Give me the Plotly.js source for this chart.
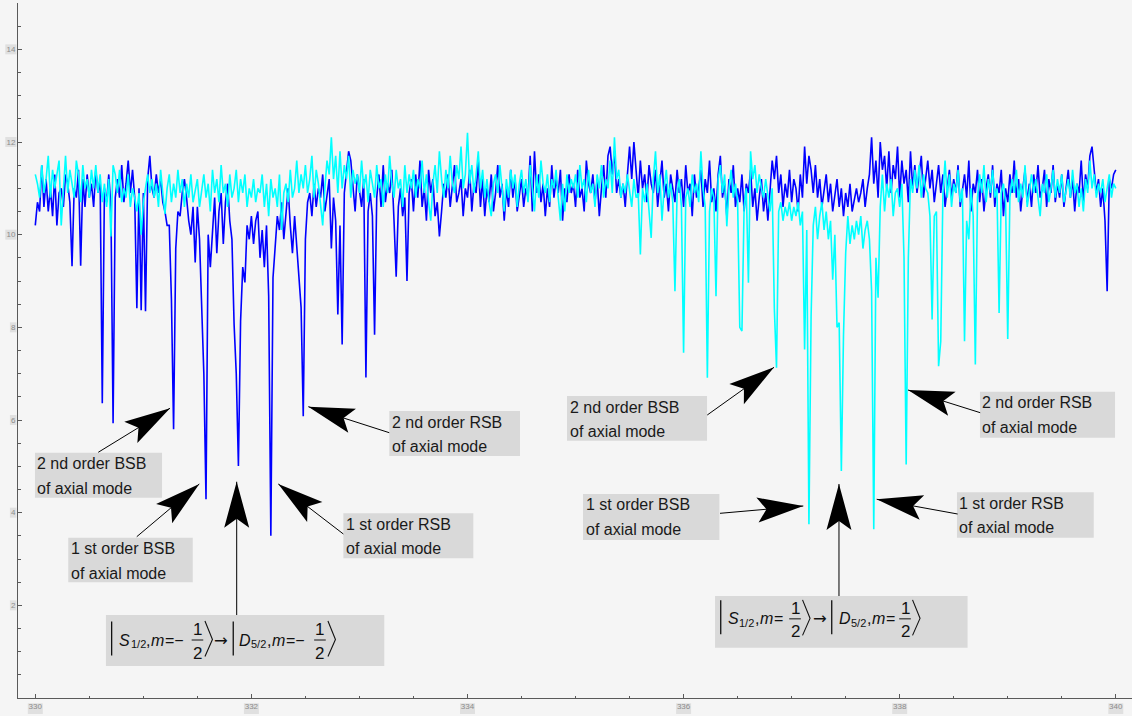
<!DOCTYPE html>
<html>
<head>
<meta charset="utf-8">
<script src="https://cdn.plot.ly/plotly-3.0.1.min.js"></script>
<style>
html,body{margin:0;padding:0;background:#f5f5f5;}
#chart{width:1132px;height:716px;}
</style>
</head>
<body>
<div id="chart"></div>
<script>
// ---------- data ----------
const X_START = 330;
const X_STEP = 0.02;
const blueValues = [
10.2,10.7,10.5,11.5,10.6,11.2,10.5,11.0,10.4,11.3,10.2,10.9,11.0,10.6,11.3,11.1,10.7,9.32,11.0,10.8,11.4,9.33,11.2,10.6,11.3,
10.8,11.1,10.6,11.4,10.9,11.2,6.36,11.0,10.7,11.3,10.6,5.93,10.8,11.2,10.8,11.5,10.7,11.1,11.6,10.9,11.4,10.8,8.41,11.0,8.37,
10.9,8.35,11.2,11.7,11.0,10.8,11.3,10.9,11.2,10.7,10.5,10.2,10.2,8.6,5.80,9.7,10.5,10.4,10.9,11.2,10.8,10.3,10.0,10.6,9.4,
10.6,9.9,8.56,7.0,4.29,10.0,9.3,10.1,10.8,9.6,10.5,10.9,9.8,10.7,11.1,10.3,9.9,8.06,7.0,5.01,8.13,9.3,8.97,10.2,9.9,
10.4,9.8,10.3,10.5,9.5,10.1,9.3,10.2,8.67,3.50,9.07,9.8,10.4,10.1,10.7,9.9,10.5,11.0,10.2,9.6,10.4,9.8,9.2,8.43,6.08,
9.9,10.7,10.9,10.4,11.1,10.6,11.0,10.8,11.3,10.5,10.9,11.2,9.7,10.8,10.3,8.28,10.2,7.63,10.9,11.4,11.8,11.6,11.1,10.5,11.3,
11.0,10.6,11.2,6.92,10.5,10.9,10.4,7.84,10.8,11.3,10.6,11.5,10.7,11.1,10.9,11.4,10.3,9.09,10.6,11.0,10.4,10.8,9.0,10.9,11.2,
10.5,11.3,10.8,11.6,10.6,11.0,10.3,11.4,10.9,11.2,10.4,10.7,9.96,10.5,11.1,10.8,11.3,10.6,11.0,11.5,10.7,10.9,11.2,10.4,11.0,
10.8,11.4,10.5,11.1,10.9,11.6,10.6,11.2,10.4,11.0,10.7,11.3,10.5,10.9,11.5,10.8,11.1,10.3,11.0,10.6,11.4,10.8,11.2,10.5,10.9,
11.2,10.6,11.0,10.8,11.7,10.5,11.8,10.9,11.3,10.7,11.1,10.4,11.0,10.6,11.5,10.8,11.2,10.9,11.4,10.3,11.0,10.7,11.3,10.9,11.1,
10.6,11.4,10.8,11.0,10.5,11.6,11.1,10.9,11.3,10.7,11.2,10.4,11.0,11.5,10.8,11.7,11.9,11.3,11.8,10.9,11.2,10.8,11.1,10.6,11.3,
11.9,11.2,12.0,11.4,10.8,11.6,11.0,11.3,10.7,11.5,11.1,10.9,11.4,10.6,11.2,11.6,10.8,11.1,10.5,11.3,11.0,10.7,11.4,10.9,11.2,
10.6,11.5,10.9,11.1,10.4,11.3,10.8,11.0,11.4,10.6,11.2,10.9,11.6,10.7,11.0,10.5,11.3,11.7,10.8,11.1,10.4,11.2,10.9,11.5,10.6,
11.0,10.7,11.3,10.5,11.1,10.9,11.4,10.6,11.0,10.3,10.8,11.2,10.5,10.9,10.3,11.0,11.6,11.2,11.7,10.9,11.3,10.6,11.1,10.8,11.4,
10.7,11.2,11.0,10.5,11.3,10.8,11.9,11.1,11.7,11.4,10.9,11.5,10.8,11.2,10.6,11.0,11.3,10.7,11.1,10.5,10.9,11.2,10.6,11.0,10.4,
10.9,10.6,11.1,10.5,10.8,11.0,10.7,10.9,11.2,10.6,11.0,11.3,12.1,11.1,11.6,10.8,12.0,11.4,11.7,11.0,11.8,10.9,11.5,11.2,11.9,
10.8,11.6,11.1,11.4,10.7,11.8,11.0,11.5,10.9,11.3,11.7,10.8,11.2,11.6,11.0,11.4,10.7,11.1,11.5,10.9,11.3,10.6,11.0,11.4,10.8,
11.2,10.9,11.5,10.6,11.0,11.3,10.8,11.6,10.5,11.1,10.9,11.4,10.7,11.2,10.5,11.0,11.3,10.8,11.5,10.6,11.1,10.9,11.4,10.4,11.0,
10.7,11.3,10.9,11.6,10.8,11.2,10.5,11.0,11.4,10.7,11.1,10.6,11.3,10.9,11.5,10.8,11.0,11.4,10.6,11.2,10.9,11.5,10.7,11.1,10.8,
11.3,10.6,11.0,11.4,10.8,11.2,10.5,11.1,10.9,11.6,10.7,11.3,11.0,11.7,11.9,11.4,10.9,11.2,10.6,11.0,10.3,8.78,11.2,11.0,11.3,
11.4
];
const cyanValues = [
11.3,11.1,10.8,11.5,10.9,11.2,11.7,10.8,11.4,11.0,11.3,11.6,10.2,11.0,11.7,10.9,11.4,11.1,10.8,11.6,11.3,10.7,11.5,11.0,11.2,
10.8,11.4,11.0,11.5,10.9,11.3,10.7,11.1,10.6,11.2,9.96,11.5,11.3,10.9,11.4,10.7,11.0,10.8,11.3,10.6,11.0,10.8,10.5,10.9,10.0,
10.7,11.0,11.3,10.9,11.2,10.8,11.1,10.6,11.4,10.9,10.45,11.0,11.3,10.7,11.1,10.8,11.4,10.9,11.2,10.6,11.1,10.8,11.3,10.7,11.0,
11.2,10.6,10.9,11.3,10.8,11.1,10.5,11.4,10.9,11.2,10.7,11.5,10.9,11.1,10.6,11.3,10.8,11.0,11.4,10.7,11.2,10.9,11.3,10.6,11.0,
10.8,11.2,10.7,11.0,10.9,11.3,10.6,11.1,10.4,11.2,10.8,11.0,10.6,11.3,10.1,10.9,11.1,10.7,11.4,10.8,11.0,11.6,10.9,11.3,11.0,
11.5,10.9,11.2,11.7,10.8,11.4,11.1,10.6,10.2,11.0,11.6,11.3,12.1,11.2,11.7,10.9,11.8,11.0,11.5,11.2,11.7,10.8,11.4,11.1,11.3,
10.9,11.6,11.0,11.3,10.7,11.4,11.1,10.8,11.5,11.0,11.2,10.6,11.3,10.9,11.7,11.1,10.8,11.4,11.0,11.2,10.6,11.5,10.9,11.3,11.0,
11.4,10.8,11.2,11.0,11.6,10.9,11.3,10.7,10.3,11.1,11.5,10.9,11.8,11.2,10.8,11.4,11.0,11.7,11.1,10.9,11.5,11.2,11.9,11.0,11.3,
12.2,11.1,11.5,10.9,11.3,11.8,11.0,11.4,10.8,11.2,10.7,10.4,11.1,11.3,10.9,11.5,11.0,10.5,11.2,10.8,11.4,11.0,11.3,10.6,11.1,
11.4,10.9,11.2,10.7,11.5,11.0,10.5,11.3,10.8,11.6,11.1,10.9,11.3,10.7,11.2,11.0,11.4,10.8,10.3,11.1,10.5,11.3,10.9,11.2,11.0,
11.3,10.8,11.5,11.0,11.2,10.7,11.4,10.9,11.1,10.6,11.3,11.0,11.5,10.8,11.2,11.0,11.6,10.9,12.1,11.2,11.4,10.8,11.1,10.9,11.3,
11.0,10.6,11.2,10.8,10.9,9.57,11.0,10.7,11.1,10.6,9.93,11.2,11.8,10.9,11.3,10.3,11.0,11.4,10.8,11.1,10.7,8.78,10.9,11.2,10.6,
7.45,10.8,11.0,10.6,11.3,10.9,11.1,10.7,11.8,11.0,10.6,6.91,10.5,11.0,10.8,8.67,11.2,11.5,10.9,11.3,10.18,11.0,11.4,10.8,11.1,
10.7,8.0,7.92,10.6,11.0,8.96,11.8,11.2,11.5,10.9,11.3,11.0,10.8,11.2,10.9,10.5,11.0,8.4,7.13,10.5,10.7,10.3,10.6,10.4,10.7,
10.3,10.6,10.4,10.7,10.2,10.5,7.52,10.1,3.75,8.24,10.2,10.6,9.9,10.4,10.7,10.1,10.5,9.9,10.3,9.03,10.0,8.0,8.1,4.90,7.84,
9.6,10.4,9.8,10.2,9.9,10.3,10.0,10.4,9.7,10.1,10.3,9.9,8.78,3.64,9.5,8.64,10.6,11.3,10.5,11.1,10.8,11.2,10.4,10.9,11.0,
10.6,11.1,9.5,5.04,9.5,11.2,10.9,11.4,11.0,11.5,10.8,11.3,11.0,10.9,10.4,8.17,10.4,10.5,7.16,7.70,10.9,11.6,10.8,11.3,10.6,
11.1,10.9,11.4,10.7,11.0,7.70,10.3,9.9,11.0,10.4,7.20,10.8,11.3,10.9,11.5,10.7,11.2,10.9,11.4,10.8,11.0,8.31,10.9,11.1,10.7,
7.75,10.8,11.2,10.9,11.4,10.7,11.1,10.8,11.5,10.6,11.0,11.3,10.9,11.2,10.8,10.4,11.1,10.9,11.3,10.7,11.0,11.4,10.8,11.2,10.9,
11.3,10.7,11.0,11.2,10.8,11.4,10.9,11.1,10.6,11.0,10.5,11.2,10.9,11.6,11.0,11.3,10.8,11.1,10.9,11.2,10.7,11.0,11.3,10.8,11.1,
11.0
];
const xTickValues = [330, 332, 334, 336, 338, 340];
const yTickValues = [2, 4, 6, 8, 10, 12, 14];

// ---------- layout constants ----------
const FONT = 'Liberation Sans, Arial, sans-serif';
const W = 1132, H = 716;
const M = {l: 18, r: 0, t: 3, b: 18, pad: 0};
const X_RANGE = [329.84, 340.15];
const Y_RANGE = [0, 15];
const kx = (W - M.l - M.r) / (X_RANGE[1] - X_RANGE[0]);
const ky = (H - M.t - M.b) / (Y_RANGE[1] - Y_RANGE[0]);
const AXIS_COLOR = '#5a5a5a';

const xBlue = blueValues.map((_, i) => +(X_START + i * X_STEP).toFixed(2));
const xCyan = cyanValues.map((_, i) => +(X_START + i * X_STEP).toFixed(2));

const traces = [
  {x: xBlue, y: blueValues, type: 'scatter', mode: 'lines', line: {color: '#0000ff', width: 1.6}, hoverinfo: 'skip'},
  {x: xCyan, y: cyanValues, type: 'scatter', mode: 'lines', line: {color: '#00ffff', width: 1.6}, hoverinfo: 'skip'}
];

const shapes = [];
const annotations = [];

// arrow: thin line + large notched black head
function addArrow(tip, tail) {
  shapes.push({type: 'line', xref: 'x', yref: 'y', x0: tail[0], y0: tail[1], x1: tip[0], y1: tip[1],
    line: {color: '#000', width: 1}, layer: 'above'});
  const ux = (tail[0] - tip[0]) * kx, uy = (tail[1] - tip[1]) * ky;
  const len = Math.hypot(ux, uy);
  const dx = ux / len, dy = uy / len, nx = -dy, ny = dx;
  const L = 46, HW = 12.5, N = 37;
  const f = v => v.toFixed(2);
  const path = 'M0,0 L' + f(dx * L + nx * HW) + ',' + f(dy * L + ny * HW) +
    ' L' + f(dx * N) + ',' + f(dy * N) +
    ' L' + f(dx * L - nx * HW) + ',' + f(dy * L - ny * HW) + ' Z';
  shapes.push({type: 'path', xref: 'x', yref: 'y', xsizemode: 'pixel', ysizemode: 'pixel',
    xanchor: tip[0], yanchor: tip[1], path: path, fillcolor: '#000', line: {width: 0}, layer: 'above'});
}

function addBox(x0, x1, y0, y1) {
  shapes.push({type: 'rect', xref: 'x', yref: 'y', x0: x0, x1: x1, y0: y0, y1: y1,
    fillcolor: '#d9d9d9', line: {width: 0}, layer: 'above'});
}

// sideband labels
const labels = [
  {x0: 329.997, x1: 331.173, y0: 4.323, y1: 5.294, lines: ['2 nd order BSB', 'of axial mode'], tail: [330.583, 5.303], tip: [331.247, 6.253]},
  {x0: 330.305, x1: 331.457, y0: 2.497, y1: 3.460, lines: ['1 st order BSB', 'of axial mode'], tail: [330.939, 3.481], tip: [331.518, 4.619]},
  {x0: 332.851, x1: 334.054, y0: 3.015, y1: 3.986, lines: ['1 st order RSB', 'of axial mode'], tail: [332.851, 3.540], tip: [332.249, 4.619]},
  {x0: 333.276, x1: 334.486, y0: 5.223, y1: 6.194, lines: ['2 nd order RSB', 'of axial mode'], tail: [333.276, 5.726], tip: [332.527, 6.287]},
  {x0: 334.921, x1: 336.217, y0: 5.553, y1: 6.518, lines: ['2 nd order BSB', 'of axial mode'], tail: [336.219, 6.108], tip: [336.837, 7.137]},
  {x0: 335.069, x1: 336.331, y0: 3.410, y1: 4.403, lines: ['1 st order BSB', 'of axial mode'], tail: [336.337, 3.986], tip: [337.108, 4.144]},
  {x0: 338.530, x1: 339.796, y0: 3.460, y1: 4.440, lines: ['1 st order RSB', 'of axial mode'], tail: [338.536, 3.971], tip: [337.787, 4.289]},
  {x0: 338.743, x1: 339.993, y0: 5.618, y1: 6.611, lines: ['2 nd order RSB', 'of axial mode'], tail: [338.745, 6.158], tip: [338.077, 6.648]}
];
labels.forEach(b => {
  addBox(b.x0, b.x1, b.y0, b.y1);
  b.lines.forEach((t, i) => {
    annotations.push({x: b.x0, y: b.y1, xref: 'x', yref: 'y', xanchor: 'left', yanchor: 'middle',
      xshift: 1.5, yshift: i === 0 ? -11 : -35.5, text: t, showarrow: false, borderpad: 0,
      font: {family: FONT, size: 16, color: '#1a1a1a'}});
  });
  addArrow(b.tip, b.tail);
});

// ---------- transition kets ----------
// measure text widths so that consecutive pieces sit side by side
const measureCtx = document.createElement('canvas').getContext('2d');
function textWidth(s, size, italic) {
  measureCtx.font = (italic ? 'italic ' : '') + size + 'px "Liberation Sans", Arial, sans-serif';
  return measureCtx.measureText(s).width;
}
const KET_MAIN = 16, KET_SUB = 11, KET_FRAC = 17;
const kets = [
  {x0: 330.654, x1: 333.230, y0: 0.691, y1: 1.791, tip: [331.864, 4.668], dyc: 0.5,
   halves: [{bar: 5.7, start: 12.3, name: 'S', sub: '1/2', tail: '=\u2212', frac: 91.5, ang: 99},
            {bar: 127.3, start: 132.3, name: 'D', sub: '5/2', tail: '=\u2212', frac: 214, ang: 222}],
   arrow: 107.3},
  {x0: 336.291, x1: 338.628, y0: 1.086, y1: 2.201, tip: [337.438, 4.619], dyc: 3,
   halves: [{bar: 5.7, start: 12, name: 'S', sub: '1/2', tail: '=', frac: 80, ang: 87.5},
            {bar: 116.7, start: 123.3, name: 'D', sub: '5/2', tail: '=', frac: 190, ang: 197.5}],
   arrow: 96.5}
];
const KC = '#111111';
kets.forEach(k => {
  addBox(k.x0, k.x1, k.y0, k.y1);
  addArrow(k.tip, [k.tip[0], k.y1]);
  const yc = (k.y0 + k.y1) / 2;
  const c = k.dyc;
  const pix = {xref: 'x', yref: 'y', xsizemode: 'pixel', ysizemode: 'pixel', xanchor: k.x0, yanchor: yc, layer: 'above'};
  const txt = (dx, dy, s, size, italic, anchor, family) => annotations.push({x: k.x0, y: yc, xref: 'x', yref: 'y',
    xshift: dx, yshift: c + dy, xanchor: anchor || 'left', yanchor: 'middle', text: s, showarrow: false, borderpad: 0,
    font: {family: family || FONT, size: size, color: KC, style: italic ? 'italic' : 'normal'}});
  k.halves.forEach(h => {
    // tall bar |
    shapes.push(Object.assign({type: 'line', x0: h.bar, x1: h.bar, y0: c + 18.5, y1: c - 15.5,
      line: {color: KC, width: 1.3}}, pix));
    // S_{1/2} , m = (−)
    let x = h.start;
    const seq = [[h.name, KET_MAIN, true, 0], [h.sub, KET_SUB, false, -3.7], [',', KET_MAIN, false, 0],
                 ['m', KET_MAIN, true, 0], [h.tail, KET_MAIN, false, 0]];
    seq.forEach(p => {
      txt(x, p[3], p[0], p[1], p[2]);
      x += textWidth(p[0], p[1], p[2]) + 0.6;
    });
    // fraction 1/2
    txt(h.frac, 10.3, '1', KET_FRAC, false, 'center');
    txt(h.frac, -13, '2', KET_FRAC, false, 'center');
    shapes.push(Object.assign({type: 'line', x0: h.frac - 5.8, x1: h.frac + 5.8, y0: c, y1: c,
      line: {color: KC, width: 1}}, pix));
    // tall angle bracket ⟩
    shapes.push(Object.assign({type: 'path',
      path: 'M' + h.ang + ',' + (c + 19) + ' L' + (h.ang + 7.5) + ',' + (c + 0.5) + ' L' + h.ang + ',' + (c - 16.5),
      line: {color: KC, width: 1.1}}, pix));
  });
  txt(k.arrow, 0, '\u2192', 16.5, false, 'left', 'DejaVu Sans, sans-serif');
});

// grey boxes behind tick labels
xTickValues.forEach(v => shapes.push({type: 'rect', xref: 'paper', yref: 'paper', xsizemode: 'pixel', ysizemode: 'pixel',
  xanchor: (v - X_RANGE[0]) / (X_RANGE[1] - X_RANGE[0]), yanchor: 0, x0: -7.5, x1: 7.5, y0: -5.3, y1: -16,
  fillcolor: '#e0e0e0', line: {width: 0}, layer: 'below'}));
yTickValues.forEach(v => {
  const n = String(v).length;
  shapes.push({type: 'rect', xref: 'paper', yref: 'paper', xsizemode: 'pixel', ysizemode: 'pixel',
    xanchor: 0, yanchor: v / Y_RANGE[1], x0: -1.5 - (2 + 4.6 * n), x1: -1.5, y0: -5, y1: 5,
    fillcolor: '#e0e0e0', line: {width: 0}, layer: 'below'});
});

const tickFont = {family: FONT, size: 8, color: '#8c8c8c'};
const layout = {
  width: W, height: H, margin: M,
  paper_bgcolor: '#f5f5f5', plot_bgcolor: '#f5f5f5',
  showlegend: false,
  xaxis: {range: X_RANGE, showgrid: false, zeroline: false, showline: true, linecolor: AXIS_COLOR, linewidth: 1,
    tickmode: 'array', tickvals: xTickValues, ticks: 'inside', ticklen: 4, tickcolor: AXIS_COLOR, tickwidth: 1,
    tickfont: tickFont, fixedrange: true,
    minor: {tickmode: 'linear', tick0: 330, dtick: 0.5, ticks: 'inside', ticklen: 2.5, tickcolor: AXIS_COLOR, showgrid: false}},
  yaxis: {range: Y_RANGE, showgrid: false, zeroline: false, showline: true, linecolor: AXIS_COLOR, linewidth: 1,
    tickmode: 'array', tickvals: yTickValues, ticks: 'inside', ticklen: 4, tickcolor: AXIS_COLOR, tickwidth: 1,
    tickfont: tickFont, fixedrange: true,
    minor: {tickmode: 'linear', tick0: 0, dtick: 0.5, ticks: 'inside', ticklen: 2.5, tickcolor: AXIS_COLOR, showgrid: false}},
  shapes: shapes,
  annotations: annotations
};

Plotly.newPlot('chart', traces, layout, {staticPlot: true, displayModeBar: false});
</script>
</body>
</html>
